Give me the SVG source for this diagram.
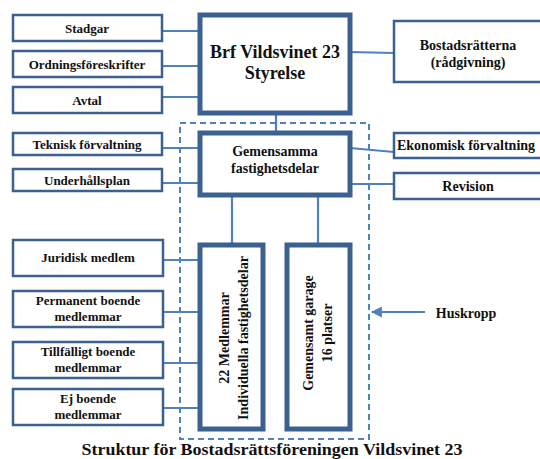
<svg xmlns="http://www.w3.org/2000/svg" width="540" height="459" viewBox="0 0 540 459">
<style>
.box{fill:#fff;stroke:#3A6190;stroke-width:2.5}
.main{fill:#fff;stroke:#3A6190;stroke-width:5}
.ln{stroke:#4F81BD;stroke-width:2.2;fill:none}
.dash{stroke:#4F81BD;stroke-width:2;fill:none;stroke-dasharray:6,4}
text{font-family:"Liberation Serif","Times New Roman",serif;font-weight:bold;fill:#111;text-anchor:middle}
.s13{font-size:13px}
.s14{font-size:14px}
.s18{font-size:18px}
</style>
<defs>
<marker id="arr" viewBox="0 0 10 10" refX="9" refY="5" markerWidth="5" markerHeight="5" orient="auto-start-reverse">
<path d="M0,0 L10,5 L0,10 z" fill="#4F81BD"/>
</marker>
</defs>
<g id="connectors">
<rect class="dash" x="180" y="123" width="189" height="316"/>
<line class="ln" x1="162" y1="31" x2="200" y2="31"/>
<line class="ln" x1="162" y1="66" x2="200" y2="66"/>
<line class="ln" x1="162" y1="97" x2="200" y2="97"/>
<line class="ln" x1="350" y1="52" x2="394" y2="53"/>
<line class="ln" x1="276" y1="113" x2="276" y2="132"/>
<line class="ln" x1="162" y1="148" x2="200" y2="148"/>
<line class="ln" x1="162" y1="183" x2="200" y2="183"/>
<line class="ln" x1="350" y1="148" x2="394" y2="152"/>
<line class="ln" x1="350" y1="184" x2="394" y2="184"/>
<line class="ln" x1="232" y1="195" x2="232" y2="243"/>
<line class="ln" x1="318" y1="195" x2="318" y2="243"/>
<line class="ln" x1="163" y1="260" x2="199" y2="260"/>
<line class="ln" x1="163" y1="312" x2="199" y2="312"/>
<line class="ln" x1="163" y1="363" x2="199" y2="363"/>
<line class="ln" x1="163" y1="408" x2="199" y2="408"/>
<line class="ln" x1="425" y1="312" x2="372" y2="312" marker-end="url(#arr)"/>
</g>
<g id="stadgar"><rect class="box" x="13" y="15" width="149" height="26"/><text class="s13" x="87" y="33">Stadgar</text></g>
<g id="ordning"><rect class="box" x="13" y="51" width="149" height="26"/><text class="s13" x="87" y="69">Ordningsföreskrifter</text></g>
<g id="avtal"><rect class="box" x="13" y="87" width="149" height="26"/><text class="s13" x="87" y="105">Avtal</text></g>
<g id="styrelse"><rect class="main" x="200" y="15" width="150" height="98"/><text class="s18" x="275" y="58">Brf Vildsvinet 23</text><text class="s18" x="275" y="79">Styrelse</text></g>
<g id="bostadsratterna"><rect class="box" x="394" y="21" width="170" height="61"/><text class="s14" x="468" y="50">Bostadsrätterna</text><text class="s14" x="468" y="67">(rådgivning)</text></g>
<g id="teknisk"><rect class="box" x="13" y="133" width="149" height="22"/><text class="s13" x="87" y="149">Teknisk förvaltning</text></g>
<g id="underhall"><rect class="box" x="13" y="169" width="149" height="22"/><text class="s13" x="87" y="185">Underhållsplan</text></g>
<g id="gemensamma"><rect class="main" x="200" y="133" width="150" height="62"/><text class="s14" x="275" y="156">Gemensamma</text><text class="s14" x="275" y="173">fastighetsdelar</text></g>
<g id="ekonomisk"><rect class="box" x="394" y="133" width="170" height="25"/><text x="397" y="150" style="font-size:14px;text-anchor:start">Ekonomisk förvaltning</text></g>
<g id="revision"><rect class="box" x="394" y="173" width="170" height="26"/><text class="s14" x="468" y="191">Revision</text></g>
<g id="juridisk"><rect class="box" x="13" y="240" width="150" height="36"/><text class="s13" x="88" y="262">Juridisk medlem</text></g>
<g id="permanent"><rect class="box" x="13" y="291" width="150" height="36"/><text class="s13" x="88" y="305">Permanent boende</text><text class="s13" x="88" y="321">medlemmar</text></g>
<g id="tillfalligt"><rect class="box" x="13" y="342" width="150" height="36"/><text class="s13" x="88" y="356">Tillfälligt boende</text><text class="s13" x="88" y="372">medlemmar</text></g>
<g id="ejboende"><rect class="box" x="13" y="389" width="150" height="36"/><text class="s13" x="88" y="403">Ej boende</text><text class="s13" x="88" y="419">medlemmar</text></g>
<g id="medlemmar"><rect class="main" x="200" y="245" width="63" height="184"/><text class="s14" transform="translate(231,338) rotate(-90)"><tspan x="0" y="-2">22 Medlemmar</tspan><tspan x="0" y="17">Individuella fastighetsdelar</tspan></text></g>
<g id="garage"><rect class="main" x="287" y="245" width="63" height="184"/><text class="s14" transform="translate(318,333) rotate(-90)"><tspan x="0" y="-5">Gemensamt garage</tspan><tspan x="0" y="14">16 platser</tspan></text></g>
<g id="huskropp"><text class="s14" x="466" y="318">Huskropp</text></g>
<g id="title"><text x="272" y="455" textLength="381" lengthAdjust="spacingAndGlyphs" style="font-size:16.5px">Struktur  för Bostadsrättsföreningen Vildsvinet 23</text></g>
</svg>
